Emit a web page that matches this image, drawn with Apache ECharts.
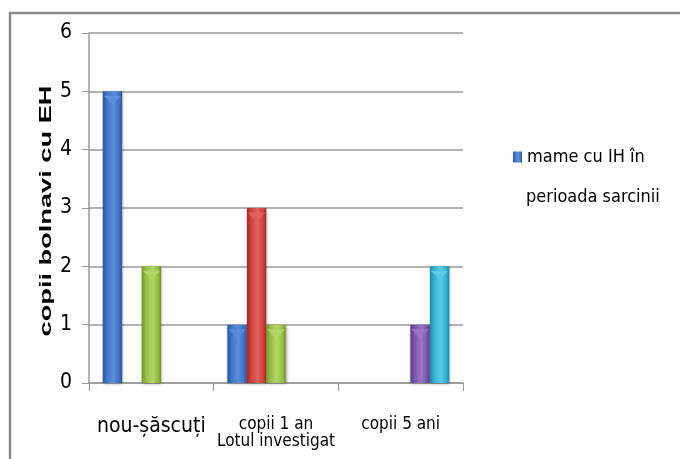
<!DOCTYPE html>
<html>
<head>
<meta charset="utf-8">
<script src="https://cdn.jsdelivr.net/npm/echarts@6/dist/echarts.min.js"></script>
<style>
html,body{margin:0;padding:0;background:#fff;}
#chart{width:680px;height:459px;}
</style>
</head>
<body>
<div id="chart"></div>
<script>
// Categories on the x axis and the counts of sick children per group
const categories = ['nou-șăscuți', 'copii 1 an', 'copii 5 ani'];
const seriesNames = ['mame cu IH în perioada sarcinii', 'seria 2', 'seria 3', 'seria 4', 'seria 5'];
const legendLines = ['mame cu IH în', 'perioada sarcinii'];
const blueValues = [5, 1, 0];
const redValues = [0, 3, 0];
const greenValues = [2, 1, 0];
const purpleValues = [0, 0, 1];
const cyanValues = [0, 0, 2];
const yTicks = [0, 1, 2, 3, 4, 5, 6];

const allValues = [blueValues, redValues, greenValues, purpleValues, cyanValues];
// base / light / dark tones per series
const palette = [
  ['#3d72c4', '#5b8fdc', '#2a5596'],
  ['#cf3f3c', '#e4615d', '#a02b29'],
  ['#94bd42', '#b3d667', '#6f9129'],
  ['#7a54ab', '#9a78c8', '#5a3b83'],
  ['#2fb0d2', '#5ccbe6', '#1d88a6']
];

const NARROW = '"Liberation Sans Narrow", "DejaVu Sans Condensed", "Liberation Sans", sans-serif';

function barFill(c) {
  return new echarts.graphic.LinearGradient(0, 0, 1, 0, [
    { offset: 0, color: c[2] },
    { offset: 0.2, color: c[0] },
    { offset: 0.55, color: c[1] },
    { offset: 0.85, color: c[0] },
    { offset: 1, color: c[2] }
  ]);
}

const series = [];
allValues.forEach((vals, i) => {
  series.push({
    name: seriesNames[i],
    type: 'bar',
    data: vals,
    barGap: '0%',
    barCategoryGap: '22%',
    itemStyle: {
      color: barFill(palette[i]),
      shadowColor: 'rgba(0,0,0,0.35)',
      shadowBlur: 3,
      shadowOffsetX: 1,
      shadowOffsetY: 1
    },
    z: 2
  });
});
// bevel highlight at the top of every bar
allValues.forEach((vals, i) => {
  series.push({
    name: seriesNames[i] + ' top',
    type: 'pictorialBar',
    data: vals.map(v => (v > 0 ? v : '-')),
    barGap: '0%',
    barCategoryGap: '22%',
    symbol: 'triangle',
    symbolRotate: 180,
    symbolPosition: 'end',
    symbolSize: ['90%', 9],
    symbolOffset: [0, '50%'],
    itemStyle: { color: palette[i][1], opacity: 0.9 },
    silent: true,
    z: 3,
    legendHoverLink: false
  });
});

const chart = echarts.init(document.getElementById('chart'), null, { renderer: 'canvas' });
chart.setOption({
  backgroundColor: '#fff',
  animation: false,
  grid: { left: 89, right: 217, top: 33, bottom: 76, containLabel: false, outerBoundsMode: 'none' },
  legend: {
    data: [{ name: seriesNames[0], icon: 'rect' }],
    formatter: () => legendLines[0],
    left: 508,
    top: 143,
    itemWidth: 9,
    itemHeight: 11,
    itemGap: 6,
    selectedMode: false,
    textStyle: {
      fontFamily: NARROW,
      fontSize: 18,
      color: '#000'
    }
  },
  xAxis: {
    type: 'category',
    data: categories,
    name: 'Lotul investigat',
    nameLocation: 'middle',
    nameGap: 50,
    nameMoveOverlap: false,
    nameTextStyle: { fontFamily: NARROW, fontSize: 17, color: '#000' },
    axisLine: { lineStyle: { color: '#999', width: 1.5 } },
    axisTick: { show: true, length: 8, lineStyle: { color: '#999' } },
    axisLabel: {
      margin: 33,
      interval: 0,
      fontFamily: NARROW,
      color: '#000',
      formatter: (v, idx) => (idx === 0 ? '{big|' + v + '}' : '{small|' + v + '}'),
      rich: {
        big: { fontFamily: NARROW, fontSize: 21, color: '#000' },
        small: { fontFamily: NARROW, fontSize: 17, color: '#000' }
      }
    },
    splitLine: { show: false }
  },
  yAxis: {
    type: 'value',
    min: yTicks[0],
    max: yTicks[yTicks.length - 1],
    interval: 1,
    axisLine: { show: true, lineStyle: { color: '#999', width: 1.5 } },
    axisTick: { show: true, length: 7, lineStyle: { color: '#999' } },
    axisLabel: { margin: 17, fontFamily: NARROW, fontSize: 21, color: '#000' },
    splitLine: { lineStyle: { color: '#999', width: 1.5 } }
  },
  graphic: [
    {
      type: 'rect',
      shape: { x: 10, y: 13, width: 700, height: 470 },
      style: { fill: 'none', stroke: '#8a8a8a', lineWidth: 2.5 },
      silent: true,
      z: 0
    },
    {
      type: 'text',
      x: 46,
      y: 211,
      rotation: Math.PI / 2,
      scaleX: 1.6,
      style: {
        text: 'copii bolnavi cu EH',
        font: 'bold 17px "Liberation Sans", Arial, sans-serif',
        fill: '#000',
        textAlign: 'center',
        textVerticalAlign: 'middle'
      },
      silent: true
    },
    {
      type: 'text',
      x: 526,
      y: 197,
      style: {
        text: legendLines[1],
        font: '18px ' + NARROW,
        fill: '#000',
        textAlign: 'left',
        textVerticalAlign: 'middle'
      },
      silent: true
    }
  ],
  series: series
});
</script>
</body>
</html>
